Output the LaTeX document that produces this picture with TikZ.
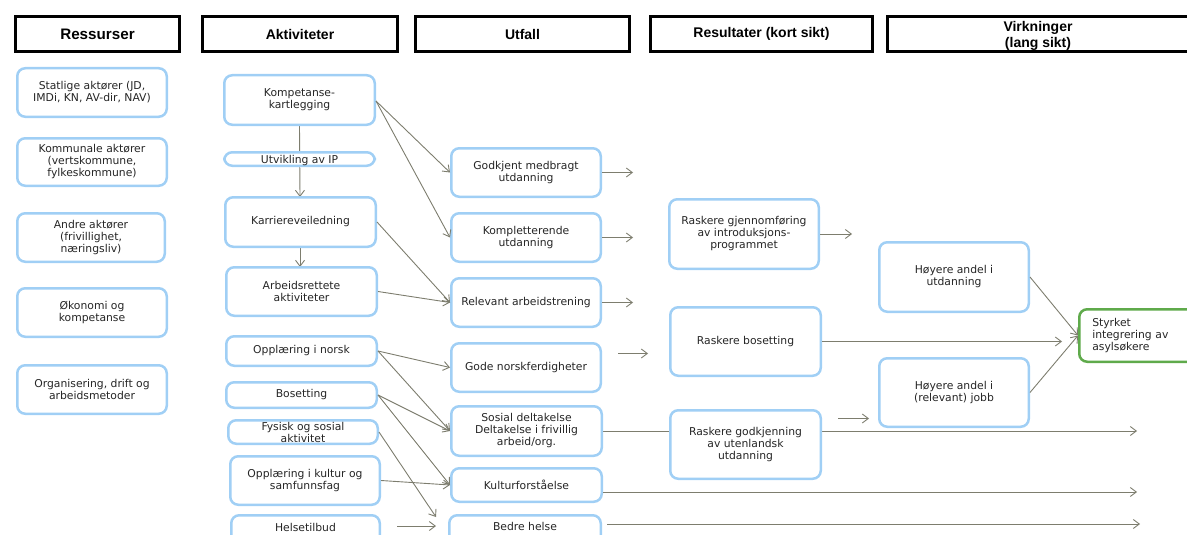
\documentclass[tikz,border=0pt]{standalone}
\usepackage{fontspec}
\usetikzlibrary{arrows.meta,calc}
\newfontfamily\bodyf{DejaVu Sans}
\newfontfamily\hdrf{Liberation Sans}
\definecolor{boxblue}{RGB}{160,207,245}
\definecolor{linecol}{RGB}{125,125,110}
\definecolor{boxgreen}{RGB}{95,170,75}
\tikzset{
  hdr/.style={draw=black, line width=2.4pt, fill=white, inner sep=0pt, align=center,
    font={\hdrf\bfseries\fontsize{14}{16}\selectfont}},
  bx/.style={draw=boxblue, line width=2.5pt, rounded corners=8pt, fill=white, align=center,
    inner xsep=2pt, inner ysep=1pt, text=black!85,
    font={\bodyf\fontsize{10.8}{12}\selectfont}},
  gbx/.style={bx, draw=boxgreen, align=left},
  con/.style={draw=linecol, line width=0.9pt},
  arr/.style={con, -{Straight Barb[length=6pt,width=9pt]}},
}
\begin{document}
\begin{tikzpicture}[x=1pt,y=-1pt]
\useasboundingbox (0,0) rectangle (1187,535);
\clip (0,0) rectangle (1187,535);
% headers
\node[hdr, minimum width=164, minimum height=35, font={\hdrf\bfseries\fontsize{15.2}{17}\selectfont}] (hres) at (97.5,34) {Ressurser};
\node[hdr, minimum width=195, minimum height=35] (hakt) at (300,34) {Aktiviteter};
\node[hdr, minimum width=214, minimum height=35] (hutf) at (522.5,34) {Utfall};
\node[hdr, minimum width=222, minimum height=35] (hrsl) at (761.5,34) {Resultater (kort sikt)};
\node[hdr, minimum width=301, minimum height=35] (hvir) at (1038,34) {\raisebox{-2pt}[\height][\depth]{Virkninger}\\\raisebox{-2pt}[\height][\depth]{(lang sikt)}};
% Ressurser
\node[bx, minimum width=149.5, minimum height=48.5] (stat) at (92,92.5) {Statlige aktører (JD,\\IMDi, KN, AV-dir, NAV)};
\node[bx, minimum width=149.5, minimum height=47.5] (komm) at (92,162) {Kommunale aktører\\(vertskommune,\\fylkeskommune)};
\node[bx, minimum width=147.5, minimum height=48.5] (andre) at (91,237.5) {Andre aktører\\(frivillighet,\\næringsliv)};
\node[bx, minimum width=149.5, minimum height=48.5] (okon) at (92,312.5) {Økonomi og\\kompetanse};
\node[bx, minimum width=149.5, minimum height=48.5] (org) at (92,389.5) {Organisering, drift og\\arbeidsmetoder};
% connectors behind boxes
\coordinate (kompS) at (299.5,126);
\coordinate (karrS) at (300,248);
\draw[arr] (kompS) -- (300,197);
\draw[arr] (karrS) -- (300,267);
% Aktiviteter
\node[bx, minimum width=150.5, minimum height=49.5] (komp) at (299.5,100) {Kompetanse-\\kartlegging};
\node[bx, minimum width=150.5, minimum height=13.5, inner ysep=0pt, text height=9pt, text depth=0pt] (ip) at (299.5,159) {Utvikling av IP};
\node[bx, minimum width=150.5, minimum height=49.5] (karr) at (300.5,222) {Karriereveiledning};
\node[bx, minimum width=150.5, minimum height=48.5] (arb) at (301.5,291.5) {Arbeidsrettete\\aktiviteter};
\node[bx, minimum width=150.5, minimum height=29.5] (norsk) at (301.5,351) {Opplæring i norsk};
\node[bx, minimum width=150.5, minimum height=25.5] (bos) at (301.5,395) {Bosetting};
\node[bx, minimum width=149.5, minimum height=23.5, inner ysep=0pt] (fys) at (303,432) {Fysisk og sosial\\aktivitet};
\node[bx, minimum width=149.5, minimum height=48.5] (kult) at (305,480.5) {Opplæring i kultur og\\samfunnsfag};
\node[bx, anchor=north, minimum width=148.5, inner ysep=0pt, text height=16pt, text depth=14pt] (helse) at (305.5,514) {Helsetilbud};
% long line behind result box
\coordinate (sosE) at (603,431);
\draw[arr] (sosE) -- (1137,431);
% Utfall
\node[bx, minimum width=149.5, minimum height=48.5] (godk) at (526,172.5) {Godkjent medbragt\\utdanning};
\node[bx, minimum width=149.5, minimum height=48.5] (kompl) at (526,237.5) {Kompletterende\\utdanning};
\node[bx, minimum width=149.5, minimum height=48.5] (relev) at (526,302.5) {Relevant arbeidstrening};
\node[bx, minimum width=149.5, minimum height=48.5] (gode) at (526,367.5) {Gode norskferdigheter};
\node[bx, minimum width=150.5, minimum height=49.5] (sosial) at (526.5,431) {Sosial deltakelse\\Deltakelse i frivillig\\arbeid/org.};
\node[bx, minimum width=150.5, minimum height=33.5] (kulturf) at (526.5,485) {Kulturforståelse};
\node[bx, anchor=north, minimum width=151.5, inner ysep=0pt, text height=15pt, text depth=15pt] (bedre) at (525,514) {Bedre helse};
% Resultater
\node[bx, minimum width=149.5, minimum height=69.5] (gjen) at (744,234) {Raskere gjennomføring\\av introduksjons-\\programmet};
\node[bx, minimum width=150.5, minimum height=68.5] (rbos) at (745.5,341.5) {Raskere bosetting};
\node[bx, minimum width=150.5, minimum height=68.5] (rgod) at (745.5,444.5) {Raskere godkjenning\\av utenlandsk\\utdanning};
% Virkninger
\node[bx, minimum width=149.5, minimum height=69.5] (hutd) at (954,277) {Høyere andel i\\utdanning};
\node[bx, minimum width=149.5, minimum height=68.5] (hjob) at (954,392.5) {Høyere andel i\\(relevant) jobb};
\node[gbx, anchor=west, text width=95pt, inner xsep=13pt, minimum height=52.5] (styrk) at (1078,335.5) {Styrket\\integrering av\\asylsøkere};
% connectors Aktiviteter -> Utfall
\draw[arr] ($(komp.east)+(0,1)$) -- (godk.west);
\draw[arr] ($(komp.east)+(0,1)$) -- (kompl.west);
\draw[arr] (karr.east) -- (relev.west);
\draw[arr] (arb.east) -- (relev.west);
\draw[arr] (norsk.east) -- (gode.west);
\draw[arr] (norsk.east) -- (sosial.west);
\draw[arr] (bos.east) -- (sosial.west);
\draw[arr] (bos.east) -- (kulturf.west);
\draw[arr] (fys.east) -- ($(bedre.north west)+(-12,3)$);
\draw[arr] (kult.east) -- (kulturf.west);
\draw[arr] ($(helse.north east)+(16,12)$) -- ($(bedre.north west)+(-12,12)$);
% Utfall -> onwards
\draw[arr] (godk.east) -- ++(31,0);
\draw[arr] (kompl.east) -- ++(31,0);
\draw[arr] (relev.east) -- ++(31,0);
\draw[arr] ($(gode.east)+(16,-14)$) -- ($(rbos.west)+(-21,12)$);
\draw[arr] ($(kulturf.east)+(0,7)$) -- ++(534,0);
\draw[arr] ($(bedre.north east)+(5,10)$) -- ++(533,0);
% Resultater -> onwards
\draw[arr] (gjen.east) -- ++(32,0);
\draw[arr] (rbos.east) -- ++(240,0);
\draw[arr] ($(rgod.east)+(16,-26)$) -- ++(31,0);
\draw[arr] (hutd.east) -- (styrk.west);
\draw[arr] (hjob.east) -- (styrk.west);
\end{tikzpicture}
\end{document}
